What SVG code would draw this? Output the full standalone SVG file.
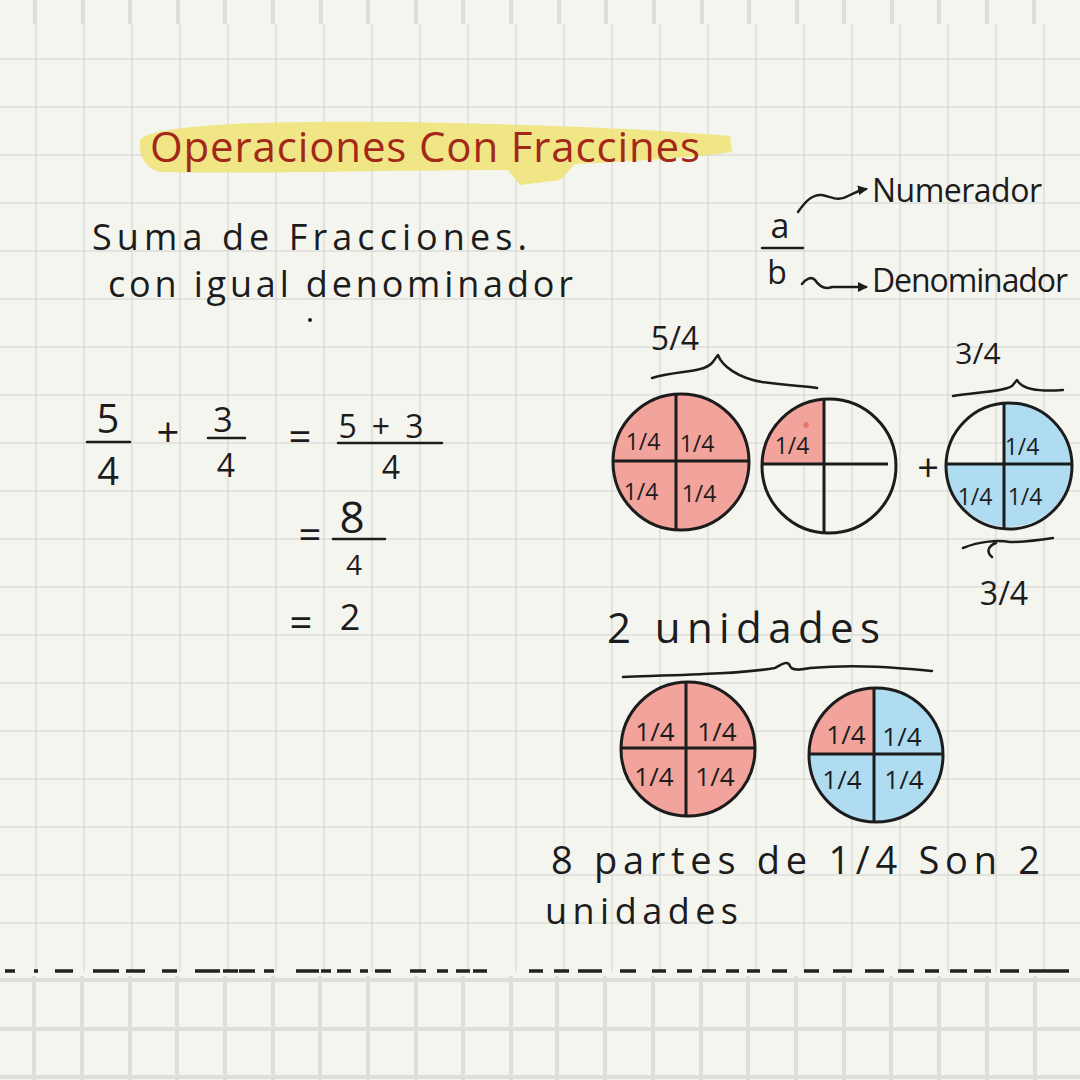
<svg xmlns="http://www.w3.org/2000/svg" width="1080" height="1080" viewBox="0 0 1080 1080">
<style>
.t{font-family:"Open Sans","Liberation Sans",sans-serif;fill:#1c1c1c}
.m{font-family:"Open Sans","Liberation Sans",sans-serif;fill:#1c1c1c;text-anchor:middle}
.q{font-family:"Open Sans","Liberation Sans",sans-serif;fill:#1c1c1c;text-anchor:middle;font-size:23px}
.qb{font-family:"Open Sans","Liberation Sans",sans-serif;fill:#1c1c1c;text-anchor:middle;font-size:26px}
.ln{stroke:#1c1c1c;stroke-width:2.5;fill:none;stroke-linecap:round;stroke-linejoin:round}
.c{stroke:#1c1c1c;stroke-width:3;fill:none}
.x{stroke:#1c1c1c;stroke-width:3;fill:none}
.red{fill:#f1a39c}
.blue{fill:#afdcf1}
.g1{stroke:#dcdcd7;stroke-width:1.5;fill:none}
.g2{stroke:#dfdfda;stroke-width:4;fill:none}
</style>
<defs>
<marker id="ah" viewBox="0 0 10 10" refX="8" refY="5" markerWidth="4" markerHeight="4" orient="auto"><path d="M0,0 L10,5 L0,10 Z" fill="#1c1c1c"/></marker>
</defs>
<rect x="0" y="0" width="1080" height="1080" fill="#f5f5f0"/>
<g id="grid">
<path class="g2" d="M35,0V24M83,0V24M130,0V24M178,0V24M225,0V24M273,0V24M321,0V24M368,0V24M416,0V24M463,0V24M511,0V24M559,0V24M606,0V24M654,0V24M702,0V24M749,0V24M797,0V24M844,0V24M892,0V24M939,0V24M987,0V24M1034,0V24"/>
<path class="g1" d="M36,24V972M84,24V972M132,24V972M180,24V972M228,24V972M276,24V972M324,24V972M372,24V972M420,24V972M468,24V972M516,24V972M564,24V972M612,24V972M660,24V972M708,24V972M756,24V972M804,24V972M852,24V972M900,24V972M948,24V972M996,24V972M1044,24V972M0,59H1080M0,107H1080M0,155H1080M0,203H1080M0,251H1080M0,299H1080M0,347H1080M0,395H1080M0,443H1080M0,491H1080M0,539H1080M0,587H1080M0,635H1080M0,683H1080M0,731H1080M0,779H1080M0,827H1080M0,875H1080M0,923H1080"/>
<path class="g2" d="M0,980H1080M0,1029H1080M0,1077H1080M34,976V1080M82,976V1080M130,976V1080M177,976V1080M225,976V1080M273,976V1080M320,976V1080M368,976V1080M416,976V1080M463,976V1080M511,976V1080M557,976V1080M605,976V1080M653,976V1080M701,976V1080M748,976V1080M796,976V1080M844,976V1080M891,976V1080M939,976V1080M987,976V1080M1035,976V1080"/>
</g>
<g id="title">
<path d="M140,140 C150,126 250,120 400,122 C520,124 640,128 730,136 L732,152 C690,158 620,162 575,164 L560,180 L520,185 L508,170 C400,170 260,174 160,172 C145,168 138,155 140,140 Z" fill="#f0e47a" opacity="0.9"/>
<text class="t" x="150" y="162" font-size="42" textLength="550" lengthAdjust="spacing" style="fill:#a3281a">Operaciones Con Fraccines</text>
</g>
<g id="subtitle">
<text class="t" x="92" y="250" font-size="36" textLength="435" lengthAdjust="spacing">Suma de Fracciones.</text>
<text class="t" x="108" y="297" font-size="36" textLength="465" lengthAdjust="spacing">con igual denominador</text>
<circle cx="310" cy="320" r="2" fill="#1c1c1c"/>
</g>
<g id="equation">
<text class="m" x="108" y="433" font-size="40">5</text>
<path class="ln" d="M87,442H130"/>
<text class="m" x="108" y="485" font-size="38">4</text>
<text class="m" x="168" y="447" font-size="40">+</text>
<text class="m" x="223" y="432" font-size="34">3</text>
<path class="ln" d="M208,438H245"/>
<text class="m" x="226" y="477" font-size="32">4</text>
<text class="m" x="300" y="451" font-size="40">=</text>
<text class="m" x="381" y="438" font-size="32" textLength="85" lengthAdjust="spacing">5+3</text>
<path class="ln" d="M338,443H442"/>
<text class="m" x="391" y="479" font-size="32">4</text>
<text class="m" x="310" y="549" font-size="40">=</text>
<text class="m" x="352" y="533" font-size="44">8</text>
<path class="ln" d="M333,539H385"/>
<text class="m" x="354" y="575" font-size="28">4</text>
<text class="m" x="301" y="637" font-size="40">=</text>
<text class="m" x="350" y="630" font-size="36">2</text>
</g>
<g id="fraction-parts">
<text class="m" x="780" y="238" font-size="34">a</text>
<path class="ln" d="M762,248H803"/>
<text class="m" x="777" y="284" font-size="32">b</text>
<text class="t" x="872" y="202" font-size="32" textLength="170" lengthAdjust="spacing">Numerador</text>
<text class="t" x="872" y="292" font-size="32" textLength="196" lengthAdjust="spacing">Denominador</text>
</g>
<g id="label-5-4"><text class="m" x="675" y="350" font-size="32">5/4</text></g>
<g id="label-3-4-top"><text class="m" x="978" y="364" font-size="30">3/4</text></g>
<g id="label-3-4-bottom"><text class="m" x="1004" y="605" font-size="32">3/4</text></g>
<g id="circle-1">
<circle cx="681" cy="462" r="68" class="red"/>
<circle cx="681" cy="462" r="68" class="c"/>
<path class="x" d="M676,394V530M613,461H749"/>
<text class="q" x="643" y="450">1/4</text>
<text class="q" x="697" y="452">1/4</text>
<text class="q" x="641" y="500">1/4</text>
<text class="q" x="699" y="502">1/4</text>
</g>
<g id="circle-2">
<path class="red" d="M824,464 L762,464 A67,67 0 0 1 824,399.2 Z"/>
<circle cx="829" cy="466" r="67" class="c"/>
<path class="x" d="M824,399V533M762,464H888"/>
<circle cx="806" cy="425" r="3" fill="#e7776b"/>
<text class="q" x="792" y="454">1/4</text>
</g>
<g id="plus"><text class="m" x="928" y="481" font-size="38">+</text></g>
<g id="circle-3">
<path class="blue" d="M1004,464 L1004,403.2 A63,63 0 0 1 1072,464 Z"/>
<path class="blue" d="M946,464 L1072,464 A63,63 0 1 1 946,464 Z"/>
<circle cx="1009" cy="466" r="63" class="c"/>
<path class="x" d="M1004,403V529M946,464H1072"/>
<text class="q" x="1022" y="455">1/4</text>
<text class="q" x="975" y="505">1/4</text>
<text class="q" x="1025" y="505">1/4</text>
</g>
<g id="label-2-unidades"><text class="t" x="607" y="643" font-size="42" textLength="273" lengthAdjust="spacing">2 unidades</text></g>
<g id="circle-4">
<circle cx="688" cy="749" r="67" class="red"/>
<circle cx="688" cy="749" r="67" class="c"/>
<path class="x" d="M686,682V816M621,748H755"/>
<text class="qb" x="655" y="741">1/4</text>
<text class="qb" x="717" y="741">1/4</text>
<text class="qb" x="654" y="786">1/4</text>
<text class="qb" x="715" y="786">1/4</text>
</g>
<g id="circle-5">
<circle cx="876" cy="755" r="67" class="blue"/>
<path class="red" d="M874,754 L809,754 A67,67 0 0 1 874,688 Z"/>
<circle cx="876" cy="755" r="67" class="c"/>
<path class="x" d="M874,688V822M809,754H943"/>
<text class="qb" x="846" y="744">1/4</text>
<text class="qb" x="902" y="746">1/4</text>
<text class="qb" x="842" y="789">1/4</text>
<text class="qb" x="904" y="789">1/4</text>
</g>
<g id="conclusion">
<text class="t" x="551" y="874" font-size="38" textLength="489" lengthAdjust="spacing">8 partes de 1/4 Son 2</text>
<text class="t" x="545" y="924" font-size="36" textLength="193" lengthAdjust="spacing">unidades</text>
</g>
<g id="connectors">
<path class="ln" marker-end="url(#ah)" d="M798,212 C805,202 812,194 822,195 C832,197 838,202 848,196 C854,193 860,190 866,189"/>
<path class="ln" marker-end="url(#ah)" d="M802,284 C806,279 811,276 815,280 C819,286 824,290 832,287 L866,287"/>
<path class="ln" d="M652,378 C680,370 702,373 712,363 L718,355 C722,366 738,378 762,382 C790,386 806,386 817,388"/>
<path class="ln" d="M953,396 C975,392 1003,392 1012,386 L1017,380 C1022,389 1036,392 1063,390"/>
<path class="ln" d="M963,548 C980,541 998,540 1010,542 C1025,542 1040,540 1053,538 M996,543 C988,546 986,552 992,557"/>
<path class="ln" d="M623,677 C680,675 740,674 775,668 C782,664 788,660 790,666 C792,671 800,670 810,668 C860,664 900,668 932,671"/>
</g>
<g id="divider">
<path stroke="#222" stroke-width="3.5" fill="none" d="M5,971H15M34,971H38M55,971H73M93,971H119M126,971H145M162,971H177M195,971H220M223,971H238M239,971H255M264,971H274M296,971H319M321,971H331M337,971H351M360,971H368M375,971H391M410,971H426M437,971H448M456,971H470M473,971H487M529,971H543M554,971H569M578,971H602M620,971H636M652,971H666M677,971H692M702,971H716M726,971H739M747,971H760M772,971H787M804,971H819M833,971H852M865,971H884M898,971H914M925,971H939M950,971H967M974,971H991M1000,971H1019M1029,971H1069"/>
</g>
</svg>
